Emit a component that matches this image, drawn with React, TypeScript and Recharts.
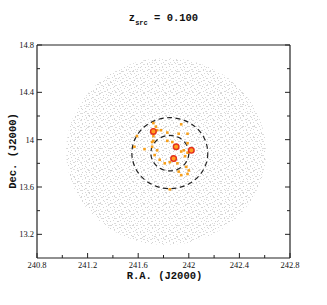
import { ScatterChart, Scatter, XAxis, YAxis, ReferenceArea } from "recharts"

const xMajor = [240.8, 241.2, 241.6, 242, 242.4, 242.8]
const xMinor = [241.0, 241.4, 241.8, 242.2, 242.6]
const yMajor = [13.2, 13.6, 14, 14.4, 14.8]
const yMinor = [13.4, 13.8, 14.2, 14.6]

// cluster members (small orange squares)
const memberRA = [
  241.72, 241.74, 241.75, 241.78, 241.72, 241.72, 241.71, 241.71, 241.65, 241.57,
  241.59, 241.75, 241.73, 241.77, 241.81, 241.85, 241.83, 241.87, 241.83, 241.94,
  241.92, 241.99, 241.99, 241.96, 241.94, 241.99, 241.97, 241.91, 241.92, 241.94,
  241.98, 242.0, 241.99, 241.85,
]
const memberDec = [
  14.14, 14.11, 14.08, 14.08, 14.03, 13.99, 13.98, 13.94, 13.92, 13.94,
  14.03, 13.91, 13.87, 13.83, 13.8, 13.81, 14.06, 13.98, 13.99, 14.13,
  14.05, 14.05, 13.97, 13.91, 13.9, 13.89, 13.86, 13.8, 13.73, 13.7,
  13.77, 13.74, 13.71, 13.58,
]

// bright members (red ringed)
const brightRA = [241.72, 241.9, 242.02, 241.88]
const brightDec = [14.07, 13.94, 13.91, 13.84]

const fieldCenter = [241.82, 13.9]
const fieldRadius = 0.79
const ringCenter = [241.85, 13.886]
const ringRadii = [0.3, 0.15]

const members = memberRA.map((ra, i) => ({ ra, dec: memberDec[i] }))
const bright = brightRA.map((ra, i) => ({ ra, dec: brightDec[i] }))

const AXIS = "#222"
const tickFont = { fontFamily: "Liberation Serif", fontSize: 8.5, fill: "#111" }
const monoBold = { fontFamily: "Liberation Mono", fontWeight: 700, color: "#111" }

const isIn = (v: number, list: number[]) => list.some((t) => Math.abs(t - v) < 1e-6)

function BottomTick({ x, y, payload }: any) {
  const major = isIn(payload.value, xMajor)
  return (
    <g>
      <line x1={x} x2={x} y1={y} y2={y - (major ? 5 : 3)} stroke={AXIS} />
      {major && (
        <text x={x} y={y + 10} textAnchor="middle" {...tickFont}>
          {payload.value}
        </text>
      )}
    </g>
  )
}

function TopTick({ x, y, payload }: any) {
  const major = isIn(payload.value, xMajor)
  return <line x1={x} x2={x} y1={y} y2={y + (major ? 5 : 3)} stroke={AXIS} />
}

function LeftTick({ x, y, payload }: any) {
  const major = isIn(payload.value, yMajor)
  return (
    <g>
      <line x1={x} x2={x + (major ? 5 : 3)} y1={y} y2={y} stroke={AXIS} />
      {major && (
        <text x={x - 3} y={y + 3} textAnchor="end" {...tickFont}>
          {payload.value}
        </text>
      )}
    </g>
  )
}

function RightTick({ x, y, payload }: any) {
  const major = isIn(payload.value, yMajor)
  return <line x1={x} x2={x - (major ? 5 : 3)} y1={y} y2={y} stroke={AXIS} />
}

function FieldShape({ x, y, width, height }: any) {
  return (
    <g>
      <defs>
        <pattern id="specA" width="7" height="7" patternUnits="userSpaceOnUse">
          <rect x="0" y="0" width="1" height="1" fill="#d6d6d6" />
          <rect x="3" y="1" width="2" height="1" fill="#dcdcdc" />
          <rect x="1" y="3" width="1" height="1" fill="#d8d8d8" />
          <rect x="5" y="4" width="1" height="1" fill="#d2d2d2" />
          <rect x="2" y="6" width="1" height="1" fill="#dddddd" />
        </pattern>
        <pattern id="specB" width="11" height="11" patternUnits="userSpaceOnUse">
          <rect x="8" y="1" width="1" height="1" fill="#d4d4d4" />
          <rect x="5" y="3" width="1" height="1" fill="#dadada" />
          <rect x="0" y="5" width="2" height="1" fill="#d6d6d6" />
          <rect x="9" y="7" width="1" height="1" fill="#d8d8d8" />
          <rect x="4" y="9" width="1" height="1" fill="#d3d3d3" />
        </pattern>
      </defs>
      <ellipse cx={x + width / 2} cy={y + height / 2} rx={width / 2} ry={height / 2} fill="url(#specA)" />
      <ellipse cx={x + width / 2} cy={y + height / 2} rx={width / 2} ry={height / 2} fill="url(#specB)" />
    </g>
  )
}

function RingShape({ x, y, width, height }: any) {
  return (
    <ellipse
      cx={x + width / 2}
      cy={y + height / 2}
      rx={width / 2}
      ry={height / 2}
      fill="none"
      stroke="#222"
      strokeWidth={1.2}
      strokeDasharray="5 3.5"
    />
  )
}

const square = (props: any) => (
  <rect x={props.cx - 1.3} y={props.cy - 1.3} width={2.6} height={2.6} fill="#f7a01c" />
)

const ringed = (props: any) => (
  <circle cx={props.cx} cy={props.cy} r={2.8} fill="#ff9f1f" stroke="#e5301d" strokeWidth={1.4} />
)

export default function App() {
  return (
    <div style={{ position: "absolute", left: 0, top: 0, width: 327, height: 305, background: "#fff" }}>
      <div
        style={{
          ...monoBold,
          position: "absolute",
          left: 0,
          top: 12,
          width: 327,
          textAlign: "center",
          fontSize: 10.5,
          lineHeight: "12px",
          whiteSpace: "pre",
        }}
      >
        z<span style={{ fontSize: 7, position: "relative", top: 4 }}>src</span> = 0.100
      </div>
      <ScatterChart width={327} height={305} margin={{ top: 40, right: 32, bottom: 27, left: 7 }}>
        <XAxis
          type="number"
          dataKey="ra"
          domain={[240.8, 242.8]}
          ticks={[...xMajor, ...xMinor]}
          interval={0}
          height={20}
          tickSize={0}
          tickMargin={0}
          tick={<BottomTick />}
          axisLine={{ stroke: AXIS, strokeWidth: 1.2 }}
          allowDataOverflow
        />
        <XAxis
          xAxisId="top"
          orientation="top"
          type="number"
          domain={[240.8, 242.8]}
          ticks={[...xMajor, ...xMinor]}
          interval={0}
          height={5}
          tickSize={0}
          tickMargin={0}
          tick={<TopTick />}
          axisLine={{ stroke: AXIS, strokeWidth: 1.2 }}
          allowDataOverflow
        />
        <YAxis
          type="number"
          dataKey="dec"
          domain={[13, 14.8]}
          ticks={[...yMajor, ...yMinor]}
          interval={0}
          width={30}
          tickSize={0}
          tickMargin={0}
          tick={<LeftTick />}
          axisLine={{ stroke: AXIS, strokeWidth: 1.2 }}
          allowDataOverflow
        />
        <YAxis
          yAxisId="right"
          orientation="right"
          type="number"
          domain={[13, 14.8]}
          ticks={[...yMajor, ...yMinor]}
          interval={0}
          width={5}
          tickSize={0}
          tickMargin={0}
          tick={<RightTick />}
          axisLine={{ stroke: AXIS, strokeWidth: 1.2 }}
          allowDataOverflow
        />
        <ReferenceArea
          x1={fieldCenter[0] - fieldRadius}
          x2={fieldCenter[0] + fieldRadius}
          y1={fieldCenter[1] - fieldRadius}
          y2={fieldCenter[1] + fieldRadius}
          shape={FieldShape}
        />
        {ringRadii.map((r) => (
          <ReferenceArea
            key={r}
            x1={ringCenter[0] - r}
            x2={ringCenter[0] + r}
            y1={ringCenter[1] - r}
            y2={ringCenter[1] + r}
            shape={RingShape}
          />
        ))}
        <Scatter data={members} shape={square} isAnimationActive={false} />
        <Scatter data={bright} shape={ringed} isAnimationActive={false} />
      </ScatterChart>
      <div
        style={{
          ...monoBold,
          position: "absolute",
          left: 0,
          top: 270,
          width: 327,
          textAlign: "center",
          fontSize: 10.5,
          lineHeight: "12px",
          whiteSpace: "pre",
          paddingLeft: 1,
        }}
      >
        R.A. (J2000)
      </div>
      <div
        style={{
          ...monoBold,
          position: "absolute",
          left: 13 - 50,
          top: 151 - 6,
          width: 100,
          textAlign: "center",
          fontSize: 10.5,
          lineHeight: "12px",
          whiteSpace: "pre",
          transform: "rotate(-90deg)",
        }}
      >
        Dec. (J2000)
      </div>
    </div>
  )
}
